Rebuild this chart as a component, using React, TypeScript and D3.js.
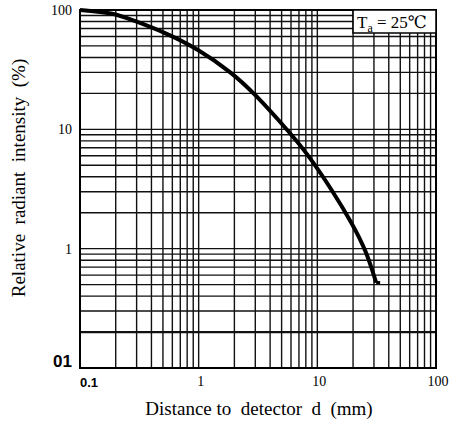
import React from 'react';
import * as d3 from 'd3';

// distance to detector (mm) vs relative radiant intensity (%)
const distance = [0.1, 0.19, 0.28, 0.5, 1, 1.93, 2.95, 5.8, 8.1, 13.4, 19.7, 25.8, 31.3];
const intensity = [100, 95, 82, 66, 47, 29.5, 20, 9.5, 6.4, 3.07, 1.62, 0.96, 0.52];

const xTickLabels = [
  { v: 0.1, t: '0.1' },
  { v: 1, t: '1' },
  { v: 10, t: '10' },
  { v: 100, t: '100' },
];
const yTickLabels = [
  { v: 100, t: '100' },
  { v: 10, t: '10' },
  { v: 1, t: '1' },
];

const W = 453;
const H = 424;
const margin = { top: 10, right: 17, bottom: 56, left: 80 };

const serif = '"Liberation Serif", "Times New Roman", "DejaVu Serif", serif';
const sans = '"Liberation Sans", Arial, sans-serif';

const App = () => {
  const x = d3
    .scaleLog()
    .domain([0.1, 100])
    .range([margin.left, W - margin.right]);
  const y = d3
    .scaleLog()
    .domain([0.1, 100])
    .range([H - margin.bottom, margin.top]);

  const xGrid = x.ticks();
  const yGrid = y.ticks();

  const pts = distance.map((d, i) => [d, intensity[i]] as [number, number]);
  const line = d3
    .line<[number, number]>()
    .x((d) => x(d[0]))
    .y((d) => y(d[1]))
    .curve(d3.curveBasis);

  const x0 = x(0.1);
  const x1 = x(100);
  const y0 = y(0.1);
  const y1 = y(100);
  const last = pts[pts.length - 1];

  return (
    <svg
      width={W}
      height={H}
      style={{ position: 'absolute', left: 0, top: 0, background: '#fff' }}
    >
      {xGrid.map((v) => (
        <line key={'vx' + v} x1={x(v)} x2={x(v)} y1={y0} y2={y1} stroke="#111" strokeWidth={1.4} />
      ))}
      {yGrid.map((v) => (
        <line
          key={'hy' + v}
          x1={x0}
          x2={x1}
          y1={y(v)}
          y2={y(v)}
          stroke="#111"
          strokeWidth={Math.abs(v - 0.2) < 1e-9 ? 2.4 : 1.4}
        />
      ))}
      <rect x={x0} y={y1} width={x1 - x0} height={y0 - y1} fill="none" stroke="#000" strokeWidth={2} />

      <path d={line(pts) || ''} fill="none" stroke="#000" strokeWidth={4} />
      <line x1={x(last[0])} x2={x(last[0]) + 4} y1={y(last[1])} y2={y(last[1])} stroke="#000" strokeWidth={3} />

      {/* Ta box */}
      <rect x={x(20)} y={y1} width={x1 - x(20)} height={23} fill="#fff" stroke="#000" strokeWidth={1.5} />
      <text x={x(20) + 4} y={y1 + 18} fontFamily={serif} fontSize={17} fill="#000">
        T
        <tspan dy={4} fontSize={12}>a</tspan>
        <tspan dy={-4}> = 25℃</tspan>
      </text>

      {yTickLabels.map((d) => (
        <text
          key={'yl' + d.v}
          x={72}
          y={y(d.v) + 5}
          textAnchor="end"
          fontFamily={serif}
          fontSize={14}
          fill="#000"
        >
          {d.t}
        </text>
      ))}
      <text x={72} y={y0 - 1} textAnchor="end" fontFamily={sans} fontWeight="bold" fontSize={17} fill="#000">
        01
      </text>

      {xTickLabels.map((d) =>
        d.v === 0.1 ? (
          <text key="xl01" x={x(d.v)} y={387} fontFamily={sans} fontWeight="bold" fontSize={13} fill="#000">
            {d.t}
          </text>
        ) : (
          <text
            key={'xl' + d.v}
            x={x(d.v) + 2}
            y={386}
            textAnchor="middle"
            fontFamily={serif}
            fontSize={14}
            fill="#000"
          >
            {d.t}
          </text>
        )
      )}

      <text
        x={259}
        y={415}
        textAnchor="middle"
        fontFamily={serif}
        fontSize={19}
        fill="#000"
        style={{ whiteSpace: 'pre' }}
      >
        Distance to  detector  d  (mm)
      </text>
      <text
        transform="translate(25, 178) rotate(-90)"
        textAnchor="middle"
        fontFamily={serif}
        fontSize={19}
        fill="#000"
        style={{ whiteSpace: 'pre' }}
      >
        Relative  radiant  intensity  (%)
      </text>
    </svg>
  );
};

export default App;
